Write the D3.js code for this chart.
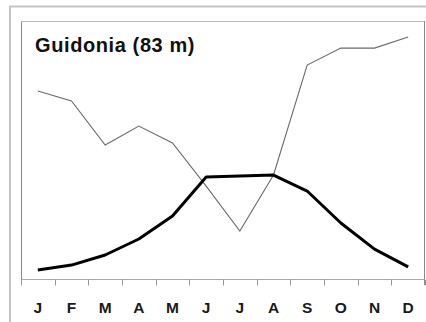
<!DOCTYPE html>
<html>
<head>
<meta charset="utf-8">
<script src="https://cdn.jsdelivr.net/npm/d3@7"></script>
<style>
  html, body { margin: 0; padding: 0; background: #fff; }
  svg { display: block; font-family: Arial, "Liberation Sans", sans-serif; }
</style>
</head>
<body>
<svg id="chart" width="426" height="322"></svg>
<script>
// climate diagram, index units (0 = bottom of plot, 100 = top)
const months = ["J", "F", "M", "A", "M", "J", "J", "A", "S", "O", "N", "D"];
const thickSeries = [3.5, 5.4, 9.3, 15.5, 24.4, 39.5, 39.9, 40.3, 34.1, 21.7, 11.6, 4.7];
const thinSeries = [72.9, 69.0, 51.9, 59.3, 52.7, 36.0, 18.6, 40.3, 82.9, 89.5, 89.5, 93.8];
const title = "Guidonia (83 m)";

const svg = d3.select("#chart");
const margin = { top: 21, right: 1, bottom: 43, left: 21 };
const width = 426 - margin.left - margin.right;
const height = 322 - margin.top - margin.bottom;

// outer frame
svg.append("path")
  .attr("d", `M10,322V6.5H426`)
  .attr("fill", "none")
  .attr("stroke", "#c4c4c4")
  .attr("stroke-width", 2);

const chart = svg.append("g")
  .attr("transform", `translate(${margin.left}, ${margin.top})`);

const idx = months.map((d, i) => i);

const x = d3.scaleBand().domain(idx).range([0, width]).padding(0);
const y = d3.scaleLinear().domain([0, 100]).range([height, 0]);

// inner frame
chart.append("line")
  .attr("x1", 0.5).attr("x2", 0.5).attr("y1", 0).attr("y2", height)
  .attr("stroke", "#888");
chart.append("line")
  .attr("x1", 0).attr("x2", width).attr("y1", 0.5).attr("y2", 0.5)
  .attr("stroke", "#bbb");
chart.append("line")
  .attr("x1", width - 0.5).attr("x2", width - 0.5).attr("y1", 0).attr("y2", height + 6)
  .attr("stroke", "#888");

// x axis
const xAxisG = chart.append("g")
  .attr("transform", `translate(0, ${height + 0.5})`);
xAxisG.append("line")
  .attr("x1", 0).attr("x2", width)
  .attr("stroke", "#aaa");
xAxisG.selectAll(".tick")
  .data(d3.range(months.length + 1))
  .join("line")
  .attr("class", "tick")
  .attr("x1", (d) => Math.round(d === months.length ? width : x(d)) + 0.5)
  .attr("x2", (d) => Math.round(d === months.length ? width : x(d)) + 0.5)
  .attr("y1", 0).attr("y2", 6)
  .attr("stroke", "#999");
xAxisG.selectAll(".lbl")
  .data(idx)
  .join("text")
  .attr("class", "lbl")
  .attr("x", (d) => x(d) + x.bandwidth() / 2)
  .attr("y", 33.5)
  .attr("text-anchor", "middle")
  .attr("font-size", 15.5)
  .attr("font-weight", "bold")
  .attr("fill", "#1a1a1a")
  .text((d) => months[d]);

const line = d3.line()
  .x((d, i) => x(i) + x.bandwidth() / 2)
  .y((d) => y(d));

chart.append("path")
  .datum(thinSeries)
  .attr("d", line)
  .attr("fill", "none")
  .attr("stroke", "#6a6a6a")
  .attr("stroke-width", 1.1);

chart.append("path")
  .datum(thickSeries)
  .attr("d", line)
  .attr("fill", "none")
  .attr("stroke", "#000")
  .attr("stroke-width", 3)
  .attr("stroke-linejoin", "round");

chart.append("text")
  .attr("x", 14)
  .attr("y", 30.5)
  .attr("font-size", 20)
  .attr("font-weight", "bold")
  .attr("letter-spacing", 0.6)
  .attr("fill", "#111")
  .text(title);
</script>
</body>
</html>
